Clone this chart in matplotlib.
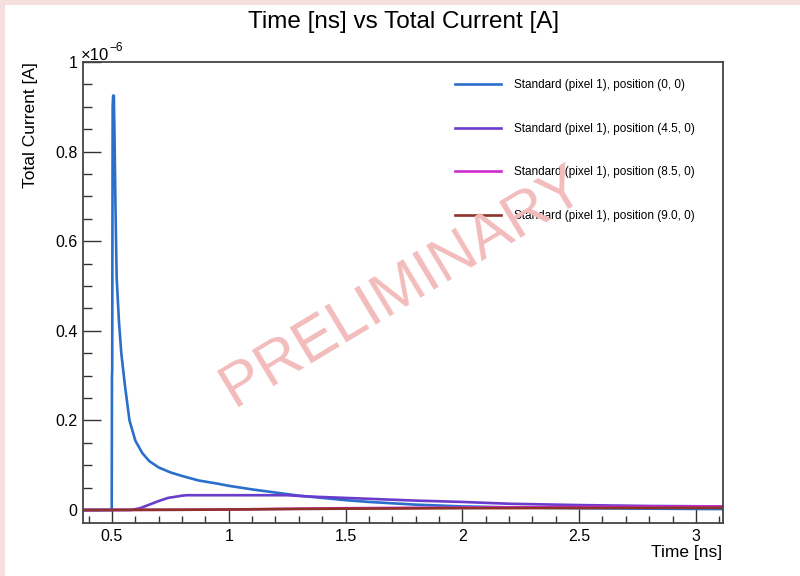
import numpy as np
import matplotlib.pyplot as plt
from matplotlib.ticker import MultipleLocator, FuncFormatter
from matplotlib.patches import Rectangle

plt.rcParams['font.family'] = ['Liberation Sans', 'DejaVu Sans']

# values (current in units of 1e-6 A)
t_pos0 = [0.376, 0.499, 0.500, 0.501, 0.503, 0.505, 0.508, 0.511, 0.515, 0.52, 0.53,
          0.54, 0.555, 0.575, 0.60, 0.63, 0.66, 0.70, 0.75, 0.80, 0.87, 0.95, 1.0,
          1.1, 1.2, 1.3, 1.4, 1.5, 1.6, 1.7, 1.8, 2.0, 2.2, 2.5, 2.8, 3.116]
i_pos0 = [0, 0, 0.30, 0.31, 0.90, 0.925, 0.925, 0.83, 0.68, 0.52, 0.42,
          0.35, 0.28, 0.20, 0.155, 0.127, 0.109, 0.095, 0.084, 0.076, 0.066, 0.059, 0.054,
          0.046, 0.039, 0.032, 0.027, 0.022, 0.018, 0.015, 0.012, 0.008, 0.006, 0.004, 0.003, 0.002]

t_pos45 = [0.376, 0.58, 0.62, 0.66, 0.70, 0.74, 0.80, 0.82, 1.25, 1.35, 1.45,
           1.6, 1.8, 2.0, 2.2, 2.5, 2.8, 3.116]
i_pos45 = [0, 0, 0.004, 0.012, 0.02, 0.027, 0.032, 0.033, 0.033, 0.030, 0.028,
           0.025, 0.021, 0.018, 0.014, 0.011, 0.009, 0.008]

t_pos85 = [0.376, 0.8, 1.0, 1.3, 1.5, 1.8, 2.2, 2.6, 3.116]
i_pos85 = [0, 0.0005, 0.001, 0.003, 0.004, 0.005, 0.006, 0.007, 0.008]

t_pos90 = [0.376, 0.9, 1.2, 1.5, 2.0, 2.5, 3.116]
i_pos90 = [0, 0.0008, 0.002, 0.003, 0.004, 0.0045, 0.005]

labels = ['Standard (pixel 1), position (0, 0)',
          'Standard (pixel 1), position (4.5, 0)',
          'Standard (pixel 1), position (8.5, 0)',
          'Standard (pixel 1), position (9.0, 0)']
colors = ['#2a6fca', '#6a3ccc', '#cc2ccc', '#8e3328']

fig = plt.figure(figsize=(8, 5.76), dpi=100, facecolor='#f6dfdf')
fig.patches.append(Rectangle((5 / 800, 0), 1, 1 - 5 / 576, transform=fig.transFigure,
                             facecolor='white', edgecolor='none', zorder=-10))
ax = fig.add_axes([83 / 800, 1 - 523 / 576, 640 / 800, 461 / 576])

series = [(t_pos0, i_pos0), (t_pos45, i_pos45), (t_pos85, i_pos85), (t_pos90, i_pos90)]
for (t, i), c, lab in zip(series, colors, labels):
    ax.plot(t, np.array(i) * 1e-6, color=c, lw=1.9, label=lab)

ax.set_xlim(0.376, 3.116)
ax.set_ylim(-0.029e-6, 1e-6)

ax.xaxis.set_major_locator(MultipleLocator(0.5))
ax.xaxis.set_minor_locator(MultipleLocator(0.1))
ax.yaxis.set_major_locator(MultipleLocator(0.2e-6))
ax.yaxis.set_minor_locator(MultipleLocator(0.05e-6))
ax.xaxis.set_major_formatter(FuncFormatter(lambda v, p: '%g' % round(v, 3)))
ax.yaxis.set_major_formatter(FuncFormatter(lambda v, p: '%g' % round(v * 1e6, 3)))
ax.tick_params(which='both', direction='in', top=False, right=False,
               labelsize=11.5, color='#333333', width=1)
ax.tick_params(axis='y', which='major', length=13, pad=4)
ax.tick_params(axis='y', which='minor', length=6.5)
ax.tick_params(axis='x', which='major', length=10, pad=4)
ax.tick_params(axis='x', which='minor', length=5)
for s in ax.spines.values():
    s.set_color('#444444')
    s.set_linewidth(1.3)

fig.text(0.505, 1 - 22 / 576, 'Time [ns] vs Total Current [A]', ha='center', va='center',
         fontsize=17.5)
fig.text(31 / 800, 1 - 62 / 576, 'Total Current [A]', rotation=90, ha='center', va='top',
         fontsize=12.5)
fig.text(722 / 800, 1 - 553 / 576, 'Time [ns]', ha='right', va='center', fontsize=12.5)
fig.text(81 / 800, 1 - 56 / 576, '\u00d710', ha='left', va='center', fontsize=12)
fig.text(109 / 800, 1 - 48 / 576, '\u22126', ha='left', va='center', fontsize=8.5)

ax.legend(loc='upper left', bbox_to_anchor=(455 / 800, 1 - 79 / 576),
          bbox_transform=fig.transFigure, frameon=False, fontsize=8.5,
          handlelength=3.9, handletextpad=1.1, labelspacing=2.68, borderpad=0,
          borderaxespad=0)

fig.text(403 / 800, 1 - 287 / 576, 'PRELIMINARY', rotation=31, ha='center', va='center',
         fontsize=44, color='#f3bcbc', zorder=20)

fig.savefig('out.png', dpi=100, facecolor=fig.get_facecolor())
